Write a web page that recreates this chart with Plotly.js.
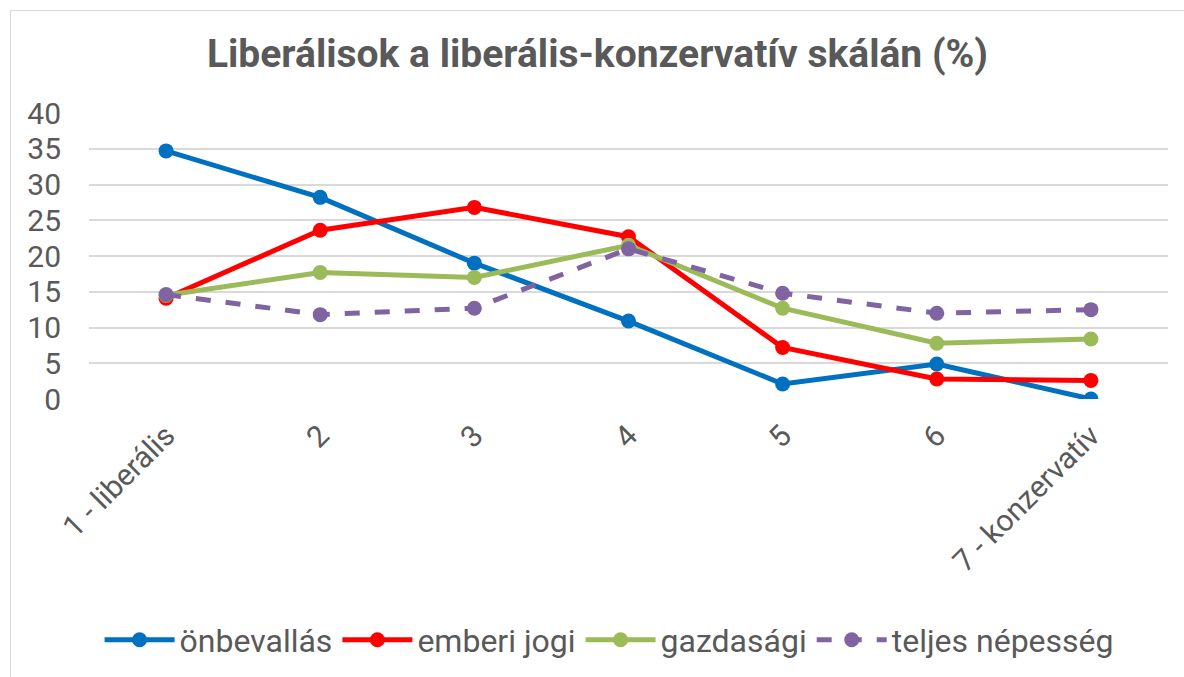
<!DOCTYPE html>
<html>
<head>
<meta charset="utf-8">
<script src="https://cdn.plot.ly/plotly-3.0.1.min.js"></script>
<style>
html,body{margin:0;padding:0;background:#fff;overflow:hidden;}
#frame{position:absolute;left:10px;top:10px;width:1180px;height:672px;border:1px solid #d9d9d9;background:#fff;}
#chart{position:absolute;left:0;top:0;width:1173px;height:666px;}
</style>
</head>
<body>
<div id="frame"><div id="chart"></div></div>
<script>
const categories = ["1 - liberális", "2", "3", "4", "5", "6", "7 - konzervatív"];
const onbevallas = [34.7, 28.2, 19.0, 10.9, 2.1, 4.9, 0.0];
const emberiJogi = [14.1, 23.6, 26.8, 22.7, 7.2, 2.8, 2.6];
const gazdasagi = [14.5, 17.7, 17.0, 21.5, 12.7, 7.8, 8.4];
const teljesNepesseg = [14.6, 11.8, 12.7, 21.0, 14.8, 12.0, 12.5];
const seriesNames = ["önbevallás", "emberi jogi", "gazdasági", "teljes népesség"];
const yTicks = [0, 5, 10, 15, 20, 25, 30, 35, 40];

const FONT = 'Roboto, "Noto Sans", sans-serif';
function mk(name, y, color, dash) {
  return {
    type: 'scatter', mode: 'lines+markers', name: name,
    x: categories, y: y,
    line: {color: color, width: 5, dash: dash || 'solid'},
    marker: {color: color, size: 15}
  };
}
const data = [
  mk(seriesNames[0], onbevallas, '#0070C0'),
  mk(seriesNames[1], emberiJogi, '#FF0000'),
  mk(seriesNames[2], gazdasagi, '#9BBB59'),
  mk(seriesNames[3], teljesNepesseg, '#8064A2', 'dash')
];
const layout = {
  width: 1173, height: 666,
  margin: {l: 78, r: 16, t: 102, b: 277},
  paper_bgcolor: '#fff', plot_bgcolor: '#fff',
  font: {family: FONT, color: '#595959', size: 30},
  title: {text: '<b>Liberálisok a liberális-konzervatív skálán (%)</b>', x: 0.5, xanchor: 'center', y: 0.937, yanchor: 'middle',
    font: {family: FONT, size: 39, color: '#595959'}},
  xaxis: {type: 'category', range: [-0.5, 6.5], tickangle: -45, tickfont: {size: 30, color: '#595959'},
    showgrid: false, showline: false, zeroline: false, ticks: '', ticklabelstandoff: 12, fixedrange: true},
  yaxis: {range: [0, 40], tickvals: yTicks, ticktext: yTicks.map(String), tickfont: {size: 30, color: '#595959'},
    gridcolor: '#d9d9d9', gridwidth: 2, zeroline: false, showline: false, ticks: '', ticklabelstandoff: 27, fixedrange: true},
  showlegend: true,
  legend: {orientation: 'h', x: 0.482, xanchor: 'center', y: -0.836, yanchor: 'middle',
    font: {size: 32, color: '#595959'}, itemwidth: 70, tracegroupgap: 0}
};
Plotly.newPlot('chart', data, layout, {displayModeBar: false, staticPlot: true});
</script>
</body>
</html>
